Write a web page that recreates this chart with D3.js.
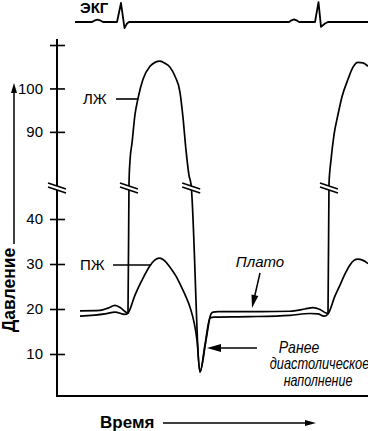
<!DOCTYPE html>
<html><head><meta charset="utf-8">
<script src="https://cdn.jsdelivr.net/npm/d3@7"></script>
<style>body{margin:0;background:#fff}svg{display:block}text{font-family:"Liberation Sans",Arial,Helvetica,sans-serif;fill:#000}</style>
</head><body><svg id="c" width="368" height="431"></svg>
<script>
// time in ms, pressure in mm Hg
const lvTime = [0,80,112,140,164,184,192,196,200,208,220,232,252,280,300,320,340,360,380,400,412,424,436,444,480,504,524,532,552,720,840,900,932,960,984,992,996,1004,1016,1032,1048,1072,1092,1112,1132,1152];
const lvPressure = [19.6,19.7,20.2,20.8,20.2,19.3,19.1,78.1,83.4,87.4,94,97.7,102.1,105.1,106,106.3,105.8,104.9,102.8,99.1,93.3,85.8,80,77.4,6,13.1,18.9,19.3,19.4,19.4,19.5,20,20.3,19.9,19.1,19.0,78,83.5,89.3,94,98.1,102.1,104.9,106,105.9,105.1];
const rvTime = [0,100,140,180,192,220,248,280,300,316,332,360,384,404,424,440,456,468,480,500,520,536,680,840,920,952,976,992,1020,1040,1060,1080,1096,1112,1132,1152];
const rvPressure = [18.4,18.9,19.3,18.8,19.1,23.1,26.4,29.6,30.9,31.3,31.0,29.3,27.3,25.1,22.7,20.4,17.1,13.1,6.0,12.0,18.0,18.2,18.3,18.6,19.0,18.9,18.4,18.9,22.9,25.3,27.8,29.8,30.8,31.1,30.8,30.1];
const ecgTime = [-20,48,60,70,80,92,148,164,178,188,196,836,846,856,866,876,940,954,964,980,992,1152];
const ecgValue = [0,0,0.09,0.13,0.09,0,0,1,-0.32,-0.08,0,0,0.09,0.14,0.09,0,0,1.05,-0.26,-0.08,0,0];
const yTicks = [10,20,30,40,90,100,110];
const yTickLabels = ["10","20","30","40","90","100",""];
const breakLow = 46, breakHigh = 78;

const svg = d3.select("#c");
const x = d3.scaleLinear().domain([-92,1152]).range([57,368]);
const y = d3.scaleLinear().domain([0,breakLow,breakHigh,110]).range([399,192,184,45]);
const ye = d3.scaleLinear().domain([0,1]).range([22,3]);
const axX = 57, axBottom = 396, breakY = (y(breakLow)+y(breakHigh))/2;

// ECG
svg.append("path").datum(ecgTime.map((t,i)=>[t,ecgValue[i]]))
  .attr("d", d3.line().x(d=>x(d[0])).y(d=>ye(d[1])))
  .attr("fill","none").attr("stroke","#000").attr("stroke-width",1.8).attr("stroke-linejoin","round");
svg.append("text").attr("x",80).attr("y",13).attr("font-size",15).attr("font-weight","bold").text("ЭКГ");

// Y axis
const yAxis = d3.axisLeft(y).tickValues(yTicks).tickFormat((d,i)=>yTickLabels[i]).tickSize(7).tickPadding(7).tickSizeOuter(0);
const gy = svg.append("g").attr("transform",`translate(${axX},0)`).call(yAxis);
gy.select(".domain").remove();
gy.selectAll(".tick line").attr("stroke-width",1.6);
gy.selectAll(".tick").append("line").attr("x1",0).attr("x2",8).attr("stroke","#000").attr("stroke-width",1.6);
gy.selectAll(".tick text").attr("font-size",15).attr("font-family","Liberation Sans, Arial, sans-serif");
svg.append("line").attr("x1",axX).attr("x2",axX).attr("y1",39).attr("y2",axBottom+1).attr("stroke","#000").attr("stroke-width",2);
// X axis
svg.append("line").attr("x1",axX-1).attr("x2",368).attr("y1",axBottom).attr("y2",axBottom).attr("stroke","#000").attr("stroke-width",2);

// curves
const line = d3.line().x(d=>x(d[0])).y(d=>y(d[1])).curve(d3.curveMonotoneX);
const lvData = lvTime.map((t,i)=>[t,lvPressure[i]]);
const rvData = rvTime.map((t,i)=>[t,rvPressure[i]]);
[lvData,rvData].forEach(dat=>{
  svg.append("path").datum(dat).attr("d",line).attr("fill","none").attr("stroke","#000").attr("stroke-width",1.7).attr("stroke-linejoin","round");
});

// break marks
function breakMark(cx,cy){
  const g = svg.append("g");
  g.append("polygon").attr("points",`${cx-9},${cy-5} ${cx+9},${cy+1} ${cx+9},${cy+5} ${cx-9},${cy-1}`).attr("fill","#fff");
  g.append("line").attr("x1",cx-9).attr("y1",cy-5).attr("x2",cx+9).attr("y2",cy+1).attr("stroke","#000").attr("stroke-width",1.5);
  g.append("line").attr("x1",cx-9).attr("y1",cy-1).attr("x2",cx+9).attr("y2",cy+5).attr("stroke","#000").attr("stroke-width",1.5);
}
breakMark(axX, breakY);
const lvPix = lvData.map(d=>[x(d[0]),y(d[1])]);
for(let i=1;i<lvPix.length;i++){
  const a=lvPix[i-1], b=lvPix[i];
  if((a[1]-breakY)*(b[1]-breakY)<0){
    const f=(breakY-a[1])/(b[1]-a[1]);
    breakMark(a[0]+f*(b[0]-a[0]), breakY);
  }
}

// arrows
function arrow(x1,y1,x2,y2,len,wid,sw){
  const ang=Math.atan2(y2-y1,x2-x1), c=Math.cos(ang), s=Math.sin(ang);
  const bx=x2-len*c, by=y2-len*s;
  svg.append("line").attr("x1",x1).attr("y1",y1).attr("x2",bx+2*c).attr("y2",by+2*s).attr("stroke","#000").attr("stroke-width",sw||1.5);
  svg.append("polygon").attr("points",`${x2},${y2} ${bx-wid/2*s},${by+wid/2*c} ${bx+wid/2*s},${by-wid/2*c}`).attr("fill","#000");
}
arrow(14,244,14,83,10,6,1.5);
arrow(163,423,316,423,11,6,1.3);
arrow(260,273,252,308,13,7,1.5);
arrow(257,348,207,348,14,8,1.5);

// leader lines and labels
svg.append("line").attr("x1",116).attr("x2",x(196)+9.5).attr("y1",99).attr("y2",99).attr("stroke","#000").attr("stroke-width",1.6);
svg.append("line").attr("x1",113).attr("x2",151).attr("y1",265).attr("y2",265).attr("stroke","#000").attr("stroke-width",1.6);
svg.append("text").attr("x",83).attr("y",104).attr("font-size",15).text("ЛЖ");
svg.append("text").attr("x",80).attr("y",270).attr("font-size",15).text("ПЖ");
const it = (tx,ty,s,fs,sx)=>svg.append("text").attr("transform",`translate(${tx},${ty}) scale(${sx},1)`).attr("font-size",fs).attr("font-style","italic").attr("text-anchor","middle").text(s);
it(260,267,"Плато",15,1);
it(299,353,"Ранее",16,0.88);
it(319.5,369,"диастолическое",16,0.8);
it(318,386,"наполнение",16,0.78);
svg.append("text").attr("transform","translate(15,290) rotate(-90)").attr("text-anchor","middle").attr("font-size",17.5).attr("font-weight","bold").text("Давление");
svg.append("text").attr("x",100).attr("y",428).attr("font-size",17).attr("font-weight","bold").text("Время");
</script></body></html>
